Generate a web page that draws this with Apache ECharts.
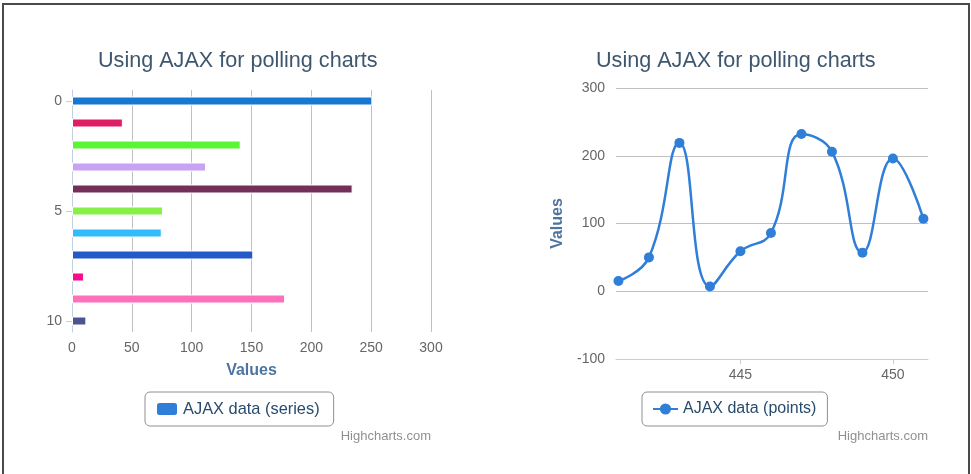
<!DOCTYPE html>
<html>
<head>
<meta charset="utf-8">
<script src="https://cdn.jsdelivr.net/npm/echarts@6/dist/echarts.min.js"></script>
<style>
html,body{margin:0;padding:0;background:#fff;}
#chart{width:971px;height:474px;}
</style>
</head>
<body>
<div id="chart"></div>
<script>
// ---- data ----
const titleText = 'Using AJAX for polling charts';
const barCategories = ['0','1','2','3','4','5','6','7','8','9','10'];
const barValues = [251, 42.5, 141, 112, 234.5, 76, 75, 151.5, 10, 178, 12];
const barColors = ['#1778d2','#e01e65','#5af534','#c8a2f5','#722f5a','#88ee48','#33bbfc','#235ac8','#fa0a8c','#ff70bb','#4a5490'];
const barSeriesName = 'AJAX data (series)';
const lineX = [441, 442, 443, 444, 445, 446, 447, 448, 449, 450, 451];
const lineY = [15, 50, 219, 7, 59, 86, 232, 206, 57, 196, 107];
const lineSeriesName = 'AJAX data (points)';
const lineXTicks = [445, 450];
const creditText = 'Highcharts.com';

const FONT = 'Liberation Sans, Arial, sans-serif';
const chart = echarts.init(document.getElementById('chart'), null, {renderer: 'canvas'});

const option = {
  backgroundColor: '#fff',
  animation: false,
  textStyle: {fontFamily: FONT},
  title: [
    {text: titleText, left: 98, top: 50, padding: 0,
     textStyle: {color: '#3e576f', fontSize: 21.6, fontWeight: 'normal', fontFamily: FONT}},
    {text: titleText, left: 596, top: 50, padding: 0,
     textStyle: {color: '#3e576f', fontSize: 21.6, fontWeight: 'normal', fontFamily: FONT}}
  ],
  legend: [
    {data: [{name: barSeriesName, icon: 'roundRect'}], left: 145, top: 392,
     padding: [9, 14, 9, 10], itemWidth: 22, itemHeight: 14,
     borderColor: '#909090', borderWidth: 1, borderRadius: 5,
     textStyle: {color: '#274b6d', fontSize: 16.4, fontFamily: FONT}},
    {data: [{name: lineSeriesName}], left: 642, top: 392,
     padding: [9, 11, 9, 10], itemWidth: 25, itemHeight: 14,
     borderColor: '#909090', borderWidth: 1, borderRadius: 5,
     textStyle: {color: '#274b6d', fontSize: 16, fontFamily: FONT}}
  ],
  grid: [
    {left: 72, top: 90, width: 359, height: 242, containLabel: false},
    {left: 616, top: 88, width: 312, height: 271, containLabel: false}
  ],
  xAxis: [
    {gridIndex: 0, type: 'value', min: 0, max: 300, interval: 50,
     axisLine: {show: false}, axisTick: {show: false},
     axisLabel: {color: '#666', fontSize: 14, margin: 9, fontFamily: FONT},
     splitLine: {show: true, lineStyle: {color: '#c0c0c0', width: 1}},
     name: 'Values', nameLocation: 'middle', nameGap: 31,
     nameTextStyle: {color: '#4d759e', fontWeight: 'bold', fontSize: 16, fontFamily: FONT}},
    {gridIndex: 1, type: 'value', min: 440.92, max: 451.15,
     axisLine: {show: true, onZero: false, lineStyle: {color: '#c0d0e0', width: 1}},
     axisTick: {show: true, length: 5, customValues: lineXTicks, lineStyle: {color: '#c0d0e0'}},
     axisLabel: {color: '#666', fontSize: 14, margin: 9, customValues: lineXTicks, fontFamily: FONT},
     splitLine: {show: false}}
  ],
  yAxis: [
    {gridIndex: 0, type: 'category', data: barCategories, inverse: true,
     axisLine: {show: true, lineStyle: {color: '#c0d0e0', width: 1}},
     axisTick: {show: true, length: 6, interval: 4, alignWithLabel: true, lineStyle: {color: '#c0d0e0'}},
     axisLabel: {color: '#666', fontSize: 14, margin: 10, interval: 4, fontFamily: FONT},
     splitLine: {show: false}},
    {gridIndex: 1, type: 'value', min: -100, max: 300, interval: 100,
     axisLine: {show: false}, axisTick: {show: false},
     axisLabel: {color: '#666', fontSize: 14, margin: 11, fontFamily: FONT},
     splitLine: {show: true, lineStyle: {color: '#c0c0c0', width: 1}},
     name: 'Values', nameLocation: 'middle', nameGap: 50,
     nameTextStyle: {color: '#4d759e', fontWeight: 'bold', fontSize: 16, fontFamily: FONT}}
  ],
  series: [
    {type: 'bar', name: barSeriesName, xAxisIndex: 0, yAxisIndex: 0,
     barWidth: 9,
     itemStyle: {color: '#2f7ed8', borderColor: '#ffffff', borderWidth: 1},
     data: barValues.map((v, i) => ({value: v, itemStyle: {color: barColors[i]}}))},
    {type: 'line', name: lineSeriesName, xAxisIndex: 1, yAxisIndex: 1,
     smooth: 0.45, symbol: 'circle', symbolSize: 10,
     lineStyle: {color: '#2f7ed8', width: 2.5},
     itemStyle: {color: '#2f7ed8'},
     data: lineX.map((x, i) => [x, lineY[i]])}
  ],
  graphic: [
    {type: 'rect', shape: {x: 3, y: 4, width: 966, height: 520},
     style: {fill: 'none', stroke: '#4a4a4a', lineWidth: 2}, silent: true, z: 100},
    {type: 'text', right: 971 - 431, top: 430,
     style: {text: creditText, fill: '#909090', font: '13px ' + FONT}},
    {type: 'text', right: 971 - 928, top: 430,
     style: {text: creditText, fill: '#909090', font: '13px ' + FONT}}
  ]
};
chart.setOption(option);
</script>
</body>
</html>
